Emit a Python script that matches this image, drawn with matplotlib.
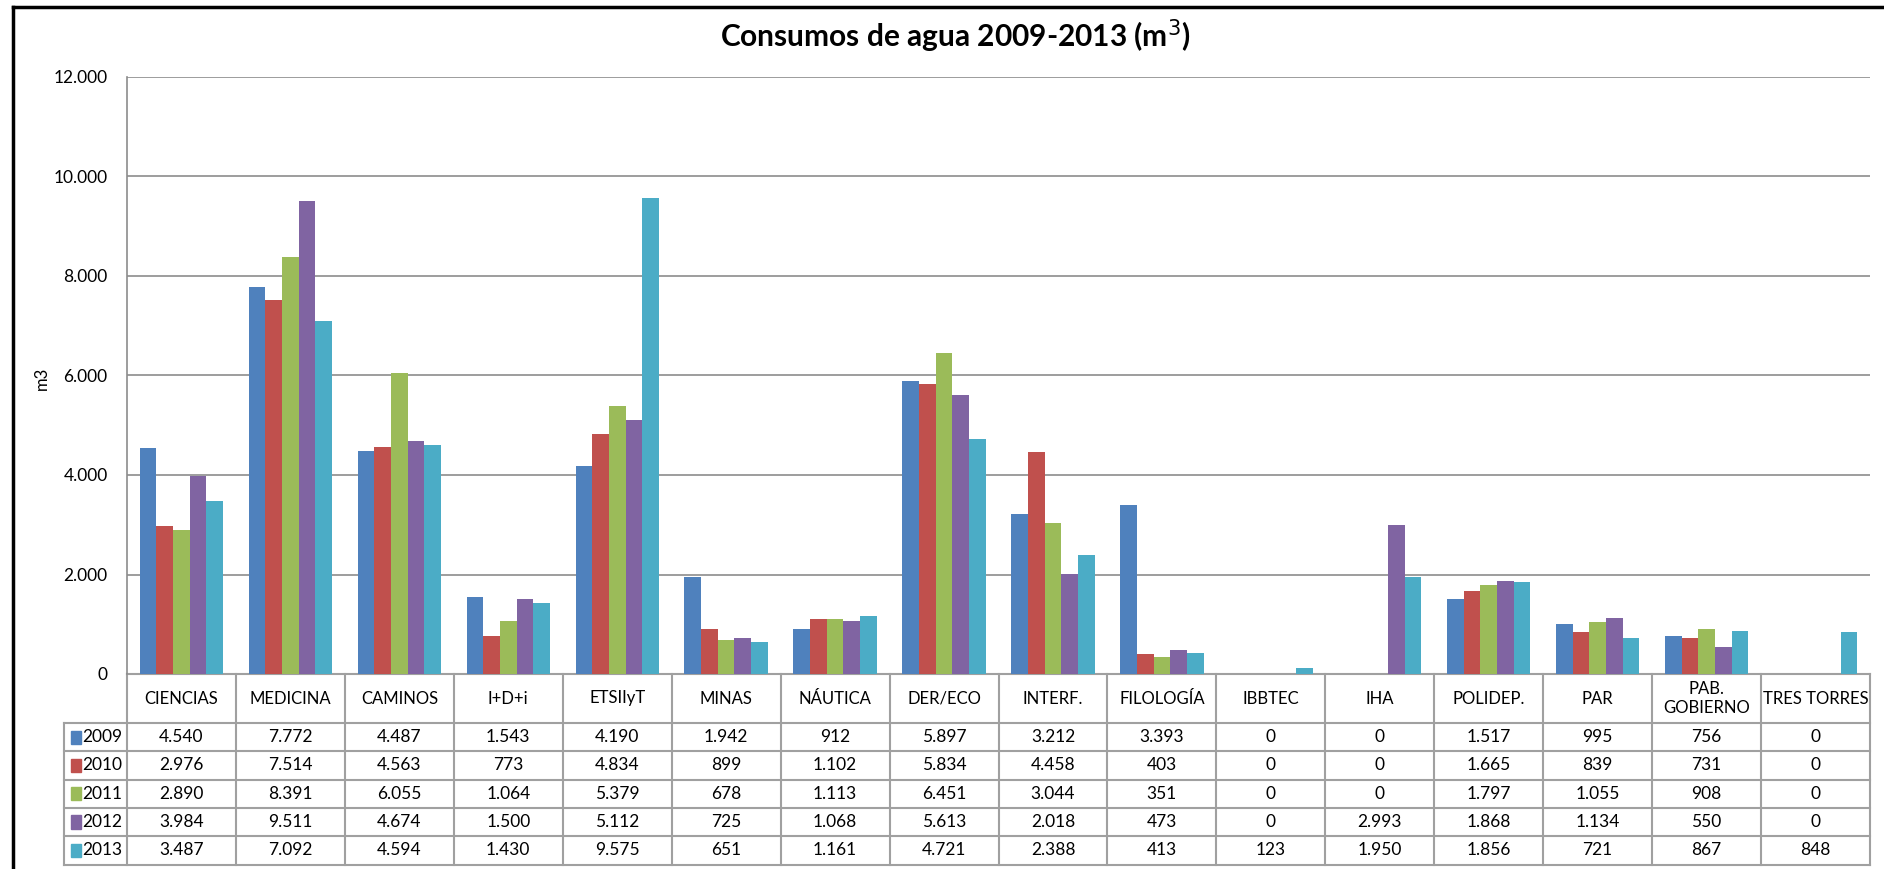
import matplotlib.pyplot as plt
from matplotlib.lines import Line2D
from matplotlib.patches import Rectangle
import numpy as np

plt.rcParams['font.family'] = ['Lato', 'DejaVu Sans']

centros = ['CIENCIAS', 'MEDICINA', 'CAMINOS', 'I+D+i', 'ETSIIyT', 'MINAS', 'NÁUTICA',
           'DER/ECO', 'INTERF.', 'FILOLOGÍA', 'IBBTEC', 'IHA', 'POLIDEP.', 'PAR',
           'PAB.\nGOBIERNO', 'TRES TORRES']
years = ['2009', '2010', '2011', '2012', '2013']
c2009 = [4540, 7772, 4487, 1543, 4190, 1942, 912, 5897, 3212, 3393, 0, 0, 1517, 995, 756, 0]
c2010 = [2976, 7514, 4563, 773, 4834, 899, 1102, 5834, 4458, 403, 0, 0, 1665, 839, 731, 0]
c2011 = [2890, 8391, 6055, 1064, 5379, 678, 1113, 6451, 3044, 351, 0, 0, 1797, 1055, 908, 0]
c2012 = [3984, 9511, 4674, 1500, 5112, 725, 1068, 5613, 2018, 473, 0, 2993, 1868, 1134, 550, 0]
c2013 = [3487, 7092, 4594, 1430, 9575, 651, 1161, 4721, 2388, 413, 123, 1950, 1856, 721, 867, 848]
series = [c2009, c2010, c2011, c2012, c2013]
colors = ['#4F81BD', '#C0504D', '#9BBB59', '#8064A2', '#4BACC6']


def fmt(v):
    return '{:,}'.format(v).replace(',', '.')


W, H = 1884, 869
fig = plt.figure(figsize=(W / 100, H / 100), dpi=100)
left, right, top, bottom = 127, 1870, 77, 674
ax = fig.add_axes([left / W, 1 - bottom / H, (right - left) / W, (bottom - top) / H])

x = np.arange(len(centros))
bw = 0.153
for i, s in enumerate(series):
    ax.bar(x + (i - 2) * bw, s, bw, color=colors[i], zorder=3)

ax.set_xlim(-0.5, len(centros) - 0.5)
ax.set_ylim(0, 12000)
ax.set_yticks(np.arange(0, 12001, 2000))
ax.set_yticklabels([fmt(v) for v in range(0, 12001, 2000)], fontsize=12.5)
ax.tick_params(axis='y', length=0, pad=14)
ax.set_xticks([])
ax.grid(axis='y', color='#8C8C8C', lw=1.2, zorder=0)
for sp in ['top', 'right', 'bottom']:
    ax.spines[sp].set_visible(False)
ax.spines['left'].set_color('#8C8C8C')
ax.spines['left'].set_linewidth(1.2)
fig.text(42 / W, 1 - 378 / H, 'm3', rotation=90, ha='center', va='center', fontsize=12)

# data table under the axis
tr = ax.get_xaxis_transform()
hdr = 49 / (bottom - top)
rh = 28.3 / (bottom - top)
leg_l = -0.5 - 63 / ((right - left) / len(centros))
gcol = '#A0A0A0'
n = len(centros)

lines = []
lines.append(([-0.5, n - 0.5], [0, 0]))
for r in range(len(years) + 1):
    yy = -hdr - r * rh
    lines.append(([leg_l, n - 0.5], [yy, yy]))
ybot = -hdr - len(years) * rh
for k in range(n + 1):
    xx = k - 0.5
    lines.append(([xx, xx], [0, ybot]))
lines.append(([leg_l, leg_l], [-hdr, ybot]))
for xs, ys in lines:
    ax.add_line(Line2D(xs, ys, transform=tr, color=gcol, lw=1.5, clip_on=False))

for k, c in enumerate(centros):
    ax.text(k, -hdr / 2, c, transform=tr, ha='center', va='center', fontsize=12,
            linespacing=1.3)
for r, (yr, s) in enumerate(zip(years, series)):
    yc = -hdr - (r + 0.5) * rh
    ax.add_patch(Rectangle((leg_l + 0.06, yc - 0.011), 0.1, 0.022, transform=tr,
                           color=colors[r], clip_on=False))
    ax.text(leg_l + 0.17, yc, yr, transform=tr, ha='left', va='center', fontsize=12.5)
    for k, v in enumerate(s):
        ax.text(k, yc, fmt(v), transform=tr, ha='center', va='center', fontsize=12.5)

fig.text(955 / W, 1 - 36 / H, 'Consumos de agua 2009-2013 (m$^3$)', ha='center', va='center',
         fontsize=21.5, fontweight='bold')

# chart border
fig.add_artist(Line2D([13 / W, 13 / W], [0, 1 - 7 / H], color='black', lw=2.5))
fig.add_artist(Line2D([13 / W, 1], [1 - 7 / H, 1 - 7 / H], color='black', lw=2.5))

fig.savefig('out.png', dpi=100)
